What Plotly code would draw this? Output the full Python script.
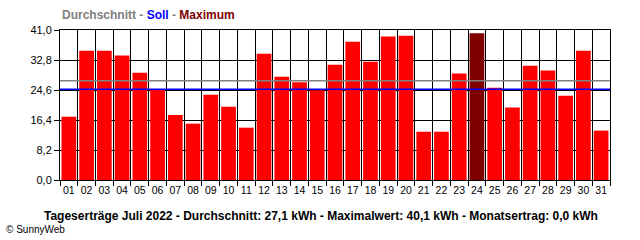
import plotly.graph_objects as go

days = [f"{i:02d}" for i in range(1, 32)]
values = [17.3, 35.3, 35.3, 34.0, 29.3, 24.9, 17.8, 15.4, 23.3, 20.0,
          14.3, 34.5, 28.2, 26.7, 24.5, 31.5, 37.8, 32.3, 39.2, 39.4,
          13.2, 13.2, 29.1, 40.1, 25.2, 19.8, 31.2, 29.9, 23.0, 35.3, 13.5]
average = 27.1
soll = 24.8
y_ticks = [0.0, 8.2, 16.4, 24.6, 32.8, 41.0]
y_tick_text = ["0,0", "8,2", "16,4", "24,6", "32,8", "41,0"]

max_val = max(values)
colors = ["#800000" if v == max_val else "#FF0000" for v in values]

fig = go.Figure()
fig.add_trace(go.Bar(x=days, y=values, marker=dict(color=colors, line=dict(width=0)),
                     showlegend=False))

fig.add_shape(type="line", xref="paper", yref="y", x0=0, x1=1, y0=average, y1=average,
              line=dict(color="#808080", width=1.5), layer="above")
fig.add_shape(type="line", xref="paper", yref="y", x0=0, x1=1, y0=soll, y1=soll,
              line=dict(color="#0000FF", width=1.5), layer="above")

font = "Liberation Sans, Arial, sans-serif"
fig.update_layout(
    width=640, height=240,
    margin=dict(l=60, r=30, t=30, b=60),
    paper_bgcolor="white", plot_bgcolor="white",
    bargap=0.17,
    font=dict(family=font, size=11, color="black"),
    xaxis=dict(type="category", tickson="boundaries", showgrid=True, gridcolor="black",
               gridwidth=1, ticks="outside", ticklen=5, tickcolor="black",
               showline=True, linecolor="black", linewidth=1, mirror=True,
               tickangle=0, tickfont=dict(size=10.5, family=font)),
    yaxis=dict(range=[0, 41], tickvals=y_ticks, ticktext=y_tick_text, showgrid=True,
               gridcolor="black", gridwidth=1, ticks="outside", ticklen=5,
               tickcolor="black", showline=True, linecolor="black", linewidth=1,
               mirror=True, zeroline=False, tickfont=dict(size=11, family=font)),
    annotations=[
        dict(xref="paper", yref="paper", x=0, y=1, xanchor="left", yanchor="bottom",
             yshift=6, showarrow=False,
             text="<b><span style='color:#808080'>Durchschnitt - </span>"
                  "<span style='color:#0000FF'>Soll</span>"
                  "<span style='color:#808080'> - </span>"
                  "<span style='color:#800000'>Maximum</span></b>",
             font=dict(size=12, family=font)),
        dict(xref="paper", yref="paper", x=0.475, y=0, xanchor="center", yanchor="middle",
             yshift=-36, showarrow=False,
             text="<b>Tageserträge Juli 2022 - Durchschnitt: 27,1 kWh - Maximalwert: 40,1 kWh - Monatsertrag: 0,0 kWh</b>",
             font=dict(size=12, family=font, color="black")),
        dict(xref="paper", yref="paper", x=-0.1, y=0, xanchor="left", yanchor="middle",
             xshift=-1, yshift=-49, showarrow=False, text="© SunnyWeb",
             font=dict(size=10, family=font, color="black")),
    ],
)

fig.write_html("out.html")
